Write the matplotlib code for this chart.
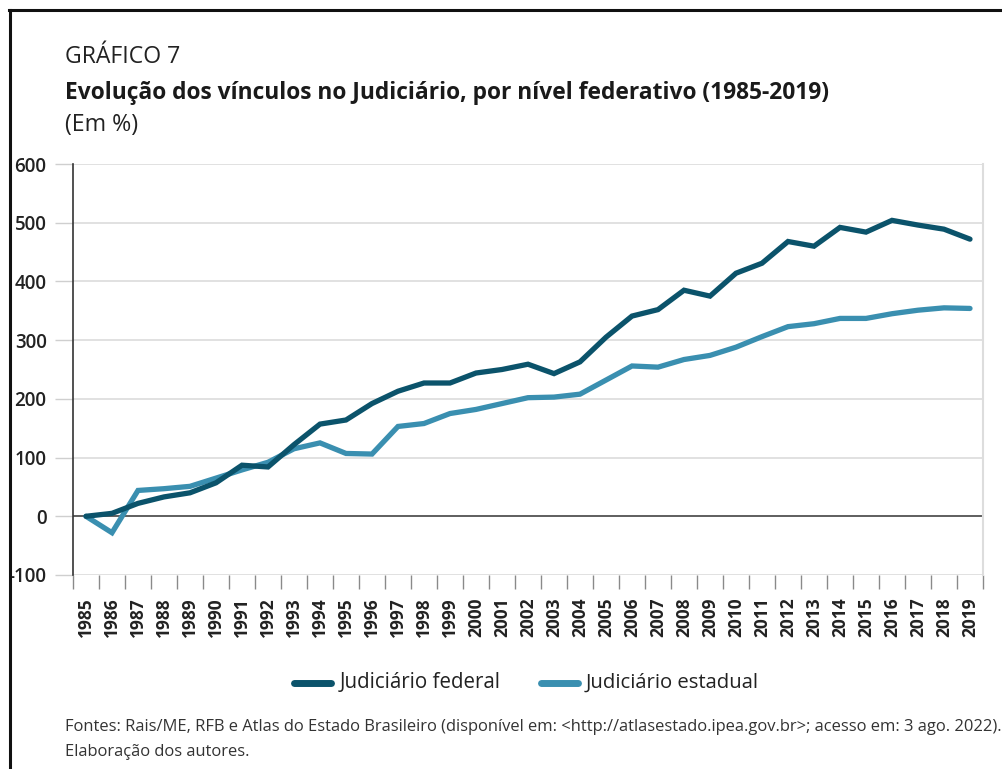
import matplotlib
matplotlib.use("Agg")
import matplotlib.pyplot as plt
from matplotlib.lines import Line2D
import numpy as np

years = [str(y) for y in range(1985, 2020)]

federal = [0, 5, 22, 33, 40, 57, 87, 84, 122, 157, 164, 192, 213, 227, 227,
           244, 250, 259, 243, 263, 305, 341, 352, 385, 375, 414, 431, 468,
           460, 492, 484, 504, 496, 489, 472]

estadual = [0, -28, 44, 47, 51, 65, 79, 92, 115, 125, 107, 106, 153, 158, 175,
            182, 192, 202, 203, 208, 232, 256, 254, 267, 274, 288, 306, 323,
            328, 337, 337, 345, 351, 355, 354]

y_ticks = [-100, 0, 100, 200, 300, 400, 500, 600]

series_names = ["Judiciário federal", "Judiciário estadual"]
series_colors = ["#0b536b", "#3a8fb0"]

title_kicker = "GRÁFICO 7"
title_main = "Evolução dos vínculos no Judiciário, por nível federativo (1985-2019)"
title_unit = "(Em %)"
source_lines = [
    "Fontes: Rais/ME, RFB e Atlas do Estado Brasileiro (disponível em: "
    "<http://atlasestado.ipea.gov.br>; acesso em: 3 ago. 2022).",
    "Elaboração dos autores.",
]

base = "Open Sans"
plt.rcParams["font.family"] = [base, "DejaVu Sans"]

W, H = 1002, 769
fig = plt.figure(figsize=(W / 100, H / 100), dpi=100)
renderer = fig.canvas.get_renderer()


def fx(px):
    return px / W


def fy(py):
    return 1 - py / H


def fitted_text(x0, ymid, s, width_px, size=14, **kw):
    """Place text at pixel position and scale its size to a given pixel width."""
    t = fig.text(fx(x0), fy(ymid), s, fontsize=size, va="center", ha="left", **kw)
    w = t.get_window_extent(renderer).width
    t.set_fontsize(size * width_px / w)
    return t


ax = fig.add_axes([fx(73), fy(575), fx(983) - fx(73), fy(164) - fy(575)])

x = np.arange(len(years))
ax.plot(x, federal, color=series_colors[0], lw=3.8, solid_capstyle="round",
        solid_joinstyle="miter", zorder=4)
ax.plot(x, estadual, color=series_colors[1], lw=3.8, solid_capstyle="round",
        solid_joinstyle="miter", zorder=3)

ax.set_xlim(-0.5, len(years) - 0.5)
ax.set_ylim(-100, 600)

ax.set_yticks(y_ticks)
ax.set_yticklabels([str(v) for v in y_ticks], fontsize=13.5, fontweight="semibold",
                   color="#222222")
ax.yaxis.grid(True, color="#dcdcdc", lw=1.2, zorder=0)
ax.axhline(0, color="#555555", lw=1.3, zorder=2)
ax.tick_params(axis="y", length=13, width=1.0, color="#cfcfcf", pad=6)

ax.set_xticks(x)
ax.set_xticklabels(years, rotation=90, fontsize=12.5, fontweight="bold",
                   color="#222222")
ax.set_xticks(np.arange(-0.5, len(years)), minor=True)
ax.tick_params(axis="x", which="major", length=0, pad=16)
ax.tick_params(axis="x", which="minor", length=10, width=1.0, color="#8a8a8a")

for side in ("top", "bottom"):
    ax.spines[side].set_visible(False)
ax.spines["left"].set_color("#333333")
ax.spines["left"].set_linewidth(1.2)
ax.spines["right"].set_color("#dddddd")
ax.spines["right"].set_linewidth(1.5)

# Frame around the figure
fig.add_artist(Line2D([fx(9), fx(1002)], [fy(10), fy(10)], color="#111111", lw=2.2))
fig.add_artist(Line2D([fx(10), fx(10)], [fy(10), fy(769)], color="#111111", lw=2.2))

fitted_text(65, 57, title_kicker, 115, size=18, color="#222222")
fitted_text(65, 93, title_main, 763, size=17, fontweight="bold", color="#1a1a1a")
fitted_text(65, 125, title_unit, 73, size=15, color="#222222")

# Legend: handles and labels placed by hand along one row
leg_y = 683
legend_items = [(294, 331, 340), (541, 578, 586)]
legend_widths = [162, 174]
for (h0, h1, tx), name, color, tw in zip(legend_items, series_names,
                                         series_colors, legend_widths):
    fig.add_artist(Line2D([fx(h0), fx(h1)], [fy(leg_y), fy(leg_y)], color=color,
                          lw=5, solid_capstyle="round"))
    fitted_text(tx, leg_y, name, tw, size=14, color="#222222")

src = fitted_text(65, 727, source_lines[0], 932, size=12, color="#333333")
fig.text(fx(65), fy(752), source_lines[1], fontsize=src.get_fontsize(),
         va="center", ha="left", color="#333333")

fig.savefig("out.png", dpi=100, facecolor="white")
